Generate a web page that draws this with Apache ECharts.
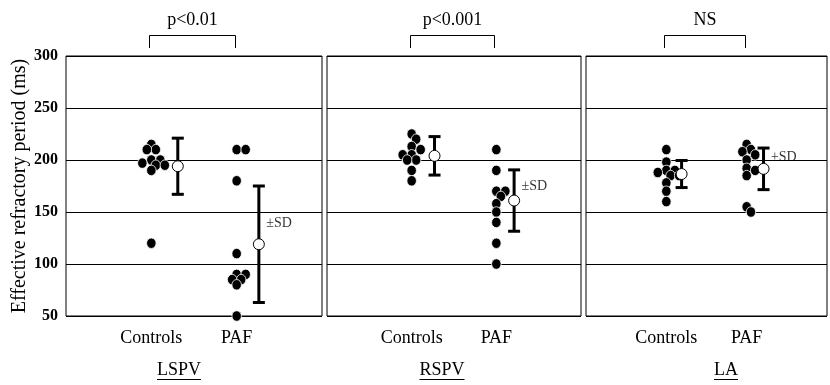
<!DOCTYPE html>
<html>
<head>
<meta charset="utf-8">
<script src="https://cdn.jsdelivr.net/npm/echarts@6/dist/echarts.min.js"></script>
<style>
  html, body { margin: 0; padding: 0; background: #fff; }
  #chart { width: 830px; height: 385px; }
</style>
</head>
<body>
<div id="chart"></div>
<script>
// 部位 / 组别 / 显著性
const regions = ['LSPV', 'RSPV', 'LA'];
const groups = ['Controls', 'PAF'];
const pValues = ['p<0.01', 'p<0.001', 'NS'];
const yTicks = [50, 100, 150, 200, 250, 300];

// 各例有效不应期 (ms)
const lspvControls = [215, 210, 210, 200, 200, 197, 195, 195, 190, 120];
const lspvPaf = [210, 210, 180, 110, 90, 90, 85, 85, 80, 50];
const rspvControls = [225, 220, 213, 210, 205, 205, 200, 200, 190, 180];
const rspvPaf = [210, 190, 170, 170, 165, 158, 150, 140, 120, 100];
const laControls = [210, 198, 190, 190, 188, 185, 185, 178, 170, 160];
const laPaf = [215, 210, 208, 205, 200, 192, 190, 185, 155, 150];

// 平均值 ± SD
const meanControls = [194, 204, 186.5];
const meanPaf = [119, 161, 191.5];
const sdControls = [27, 18.5, 13];
const sdPaf = [56, 29.5, 20];

const pointSets = [
  [lspvControls, lspvPaf],
  [rspvControls, rspvPaf],
  [laControls, laPaf],
];

const FONT = '"Liberation Serif", "Times New Roman", serif';
const TOP = 56;
const HEIGHT = 260;
// 每个面板的版式（第三个面板在原图右侧被裁切）
const panels = [
  { left: 66, width: 256, meanX: [1.31, 2.26], sdLabelY: 139 },
  { left: 327, width: 254, meanX: [1.27, 2.21], sdLabelY: 175 },
  { left: 586, width: 254, meanX: [1.19, 2.21], sdLabelY: 203 },
];
const regionLabelX = [179, 442, 726];

/**
 * 简单的蜂群排布：值相近的点左右错开（允许部分重叠）
 */
function swarm(values, center, gridWidth) {
  const ppu = HEIGHT / (yTicks[yTicks.length - 1] - yTicks[0]);
  const minDist = 6.5;
  const step = 4.5;
  const placed = [];
  const out = [];
  values.forEach((v) => {
    const y = v * ppu;
    for (let i = 0; i < 20; i++) {
      const k = i === 0 ? 0 : (i % 2 ? (i + 1) / 2 : -i / 2);
      const x = k * step;
      if (placed.every((p) => Math.hypot(p[0] - x, p[1] - y) >= minDist)) {
        placed.push([x, y]);
        out.push([center + (x * 3) / gridWidth, v]);
        break;
      }
    }
  });
  return out;
}

function errorBar(params, api) {
  const x = api.value(0);
  const m = api.value(1);
  const s = api.value(2);
  const top = api.coord([x, m + s]);
  const bot = api.coord([x, m - s]);
  const half = 6;
  const style = { stroke: '#000', lineWidth: 3 };
  return {
    type: 'group',
    children: [
      { type: 'line', shape: { x1: top[0], y1: top[1], x2: bot[0], y2: bot[1] }, style },
      { type: 'line', shape: { x1: top[0] - half, y1: top[1], x2: top[0] + half, y2: top[1] }, style },
      { type: 'line', shape: { x1: bot[0] - half, y1: bot[1], x2: bot[0] + half, y2: bot[1] }, style },
    ],
  };
}

const grid = [];
const xAxis = [];
const yAxis = [];
const series = [];

panels.forEach((p, i) => {
  grid.push({
    left: p.left,
    top: TOP,
    width: p.width,
    height: HEIGHT,
    show: true,
    borderColor: '#000',
    borderWidth: 1,
  });
  xAxis.push({
    gridIndex: i,
    type: 'value',
    min: 0,
    max: 3,
    interval: 1,
    axisLine: { show: false },
    axisTick: { show: false },
    splitLine: { show: false },
    axisLabel: {
      color: '#000',
      fontFamily: FONT,
      fontSize: 18,
      margin: 13,
      formatter: (v) => (v === 1 ? groups[0] : v === 2 ? groups[1] : ''),
    },
  });
  yAxis.push({
    gridIndex: i,
    type: 'value',
    min: yTicks[0],
    max: yTicks[yTicks.length - 1],
    interval: 50,
    axisLine: { show: false },
    axisTick: { show: false },
    splitLine: { lineStyle: { color: '#000', width: 1 } },
    axisLabel: {
      show: i === 0,
      color: '#000',
      fontFamily: FONT,
      fontSize: 16,
      fontWeight: 'bold',
      margin: 8,
    },
    name: i === 0 ? 'Effective refractory period (ms)' : '',
    nameLocation: 'middle',
    nameGap: 29,
    nameTextStyle: { color: '#000', fontFamily: FONT, fontSize: 20 },
  });

  pointSets[i].forEach((vals, g) => {
    series.push({
      type: 'scatter',
      xAxisIndex: i,
      yAxisIndex: i,
      symbol: 'circle',
      symbolSize: [9.5, 10.5],
      itemStyle: { color: '#000', borderColor: '#fff', borderWidth: 0.8, opacity: 1 },
      data: swarm(vals, g + 1, p.width),
      z: 2,
      silent: true,
    });
  });

  const stats = [
    [p.meanX[0], meanControls[i], sdControls[i]],
    [p.meanX[1], meanPaf[i], sdPaf[i]],
  ];
  series.push({
    type: 'custom',
    xAxisIndex: i,
    yAxisIndex: i,
    renderItem: errorBar,
    data: stats,
    z: 3,
    silent: true,
  });
  series.push({
    type: 'scatter',
    xAxisIndex: i,
    yAxisIndex: i,
    symbol: 'circle',
    symbolSize: 11,
    itemStyle: { color: '#fff', borderColor: '#000', borderWidth: 1, opacity: 1 },
    data: stats.map((s) => [s[0], s[1]]),
    z: 4,
    silent: true,
  });
  series.push({
    type: 'scatter',
    xAxisIndex: i,
    yAxisIndex: i,
    symbolSize: 1,
    itemStyle: { color: 'rgba(0,0,0,0)' },
    data: [[p.meanX[1], p.sdLabelY]],
    label: {
      show: true,
      position: 'right',
      distance: 7,
      formatter: '±SD',
      color: '#000',
      fontFamily: FONT,
      fontSize: 14,
    },
    z: 5,
    silent: true,
  });
});

const chart = echarts.init(document.getElementById('chart'), null, { renderer: 'canvas' });
chart.setOption({
  animation: false,
  backgroundColor: '#fff',
  grid,
  xAxis,
  yAxis,
  series,
});

// 顶部括号、p 值和底部部位名称
const ctx = document.createElement('canvas').getContext('2d');
ctx.font = '18px ' + FONT;
const graphic = [];
panels.forEach((p, i) => {
  const a = chart.convertToPixel({ gridIndex: i }, [1, 300]);
  const b = chart.convertToPixel({ gridIndex: i }, [2, 300]);
  const x1 = Math.round(a[0]) - 1.5;
  const x2 = Math.round(b[0]) - 1.5;
  graphic.push({
    type: 'polyline',
    shape: { points: [[x1, 48], [x1, 35.5], [x2, 35.5], [x2, 48]] },
    style: { stroke: '#000', lineWidth: 1, fill: null },
  });
  graphic.push({
    type: 'text',
    x: (x1 + x2) / 2,
    y: 20,
    style: {
      text: pValues[i],
      font: '18px ' + FONT,
      fill: '#000',
      align: 'center',
      verticalAlign: 'middle',
    },
  });
  const w = ctx.measureText(regions[i]).width;
  const cx = regionLabelX[i];
  graphic.push({
    type: 'text',
    x: cx,
    y: 370,
    style: {
      text: regions[i],
      font: '18px ' + FONT,
      fill: '#000',
      align: 'center',
      verticalAlign: 'middle',
    },
  });
  graphic.push({
    type: 'line',
    shape: { x1: cx - w / 2, y1: 379.5, x2: cx + w / 2, y2: 379.5 },
    style: { stroke: '#000', lineWidth: 1 },
  });
});
chart.setOption({ graphic });
</script>
</body>
</html>
